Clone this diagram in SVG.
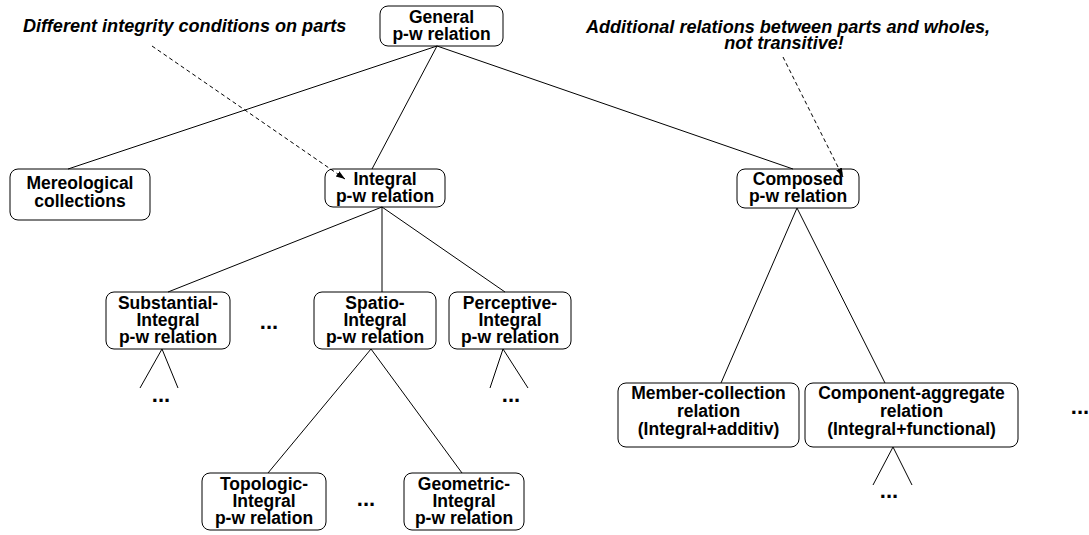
<svg xmlns="http://www.w3.org/2000/svg" width="1089" height="535" viewBox="0 0 1089 535">
<defs>
<style>
.box{fill:#fff;stroke:#000;stroke-width:1}
.t{font-family:"Liberation Sans",Arial,sans-serif;font-weight:bold;font-size:17.5px;text-anchor:middle;fill:#000}
.dots{font-family:"Liberation Sans",Arial,sans-serif;font-weight:bold;font-size:22px;text-anchor:middle;fill:#000}
.note{font-family:"Liberation Sans",Arial,sans-serif;font-weight:bold;font-style:italic;font-size:18.1px;fill:#000}
.ln{stroke:#000;stroke-width:1;fill:none}
.dash{stroke:#000;stroke-width:1;fill:none;stroke-dasharray:4 3}
</style>
<marker id="ah" viewBox="0 0 10 10" refX="10" refY="5" markerWidth="9" markerHeight="9" markerUnits="userSpaceOnUse" orient="auto">
<path d="M0,1.5 L10,5 L0,8.5 z" fill="#000"/>
</marker>
</defs>
<rect width="1089" height="535" fill="#fff"/>
<g id="note-integrity"><text class="note" x="23" y="32">Different integrity conditions on parts</text></g>
<g id="note-additional"><text class="note" x="788" y="33" text-anchor="middle">Additional relations between parts and wholes,</text><text class="note" x="784" y="49" text-anchor="middle">not transitive!</text></g>
<g id="general"><rect class="box" x="380" y="6" width="123" height="40" rx="8"/><text class="t" x="441.5" y="23">General</text><text class="t" x="441.5" y="40">p-w relation</text></g>
<g id="mereological"><rect class="box" x="10" y="169" width="140" height="51" rx="8"/><text class="t" x="80" y="189">Mereological</text><text class="t" x="80" y="207">collections</text></g>
<g id="integral"><rect class="box" x="325" y="169" width="120" height="38" rx="8"/><text class="t" x="385" y="185">Integral</text><text class="t" x="385" y="202">p-w relation</text></g>
<g id="composed"><rect class="box" x="737" y="169" width="122" height="39" rx="8"/><text class="t" x="798" y="185">Composed</text><text class="t" x="798" y="202">p-w relation</text></g>
<g id="substantial"><rect class="box" x="106" y="292" width="124" height="57" rx="8"/><text class="t" x="168" y="309">Substantial-</text><text class="t" x="168" y="326">Integral</text><text class="t" x="168" y="343">p-w relation</text></g>
<g id="spatio"><rect class="box" x="314" y="292" width="122" height="57" rx="8"/><text class="t" x="375" y="309">Spatio-</text><text class="t" x="375" y="326">Integral</text><text class="t" x="375" y="343">p-w relation</text></g>
<g id="perceptive"><rect class="box" x="449" y="292" width="122" height="57" rx="8"/><text class="t" x="510" y="309">Perceptive-</text><text class="t" x="510" y="326">Integral</text><text class="t" x="510" y="343">p-w relation</text></g>
<g id="topologic"><rect class="box" x="202" y="473" width="124" height="57" rx="8"/><text class="t" x="264" y="490">Topologic-</text><text class="t" x="264" y="507">Integral</text><text class="t" x="264" y="524">p-w relation</text></g>
<g id="geometric"><rect class="box" x="404" y="473" width="120" height="57" rx="8"/><text class="t" x="464" y="490">Geometric-</text><text class="t" x="464" y="507">Integral</text><text class="t" x="464" y="524">p-w relation</text></g>
<g id="member"><rect class="box" x="618" y="383" width="181" height="64" rx="8"/><text class="t" x="708.5" y="399">Member-collection</text><text class="t" x="708.5" y="417">relation</text><text class="t" x="708.5" y="435">(Integral+additiv)</text></g>
<g id="component"><rect class="box" x="805" y="383" width="213" height="64" rx="8"/><text class="t" x="911.5" y="399">Component-aggregate</text><text class="t" x="911.5" y="417">relation</text><text class="t" x="911.5" y="435">(Integral+functional)</text></g>
<g id="ellipses">
<text class="dots" x="269" y="329">...</text>
<text class="dots" x="161" y="402">...</text>
<text class="dots" x="511" y="402">...</text>
<text class="dots" x="366" y="506">...</text>
<text class="dots" x="889" y="498">...</text>
<text class="dots" x="1080" y="414">...</text>
</g>
<g id="connectors">
<line class="ln" x1="437" y1="46" x2="68" y2="169"/>
<line class="ln" x1="437" y1="46" x2="372" y2="169"/>
<line class="ln" x1="437" y1="46" x2="793" y2="169"/>
<line class="ln" x1="382" y1="207" x2="168" y2="292"/>
<line class="ln" x1="382" y1="207" x2="382" y2="292"/>
<line class="ln" x1="382" y1="207" x2="505" y2="292"/>
<line class="ln" x1="162" y1="349" x2="140" y2="388"/>
<line class="ln" x1="162" y1="349" x2="178" y2="388"/>
<line class="ln" x1="503" y1="349" x2="490" y2="388"/>
<line class="ln" x1="503" y1="349" x2="528" y2="388"/>
<line class="ln" x1="371" y1="349" x2="268" y2="473"/>
<line class="ln" x1="371" y1="349" x2="462" y2="473"/>
<line class="ln" x1="797" y1="208" x2="721" y2="383"/>
<line class="ln" x1="797" y1="208" x2="885" y2="383"/>
<line class="ln" x1="893" y1="447" x2="873" y2="485"/>
<line class="ln" x1="893" y1="447" x2="912" y2="485"/>
<line class="dash" x1="152" y1="46" x2="345" y2="179" marker-end="url(#ah)"/>
<line class="dash" x1="783" y1="57" x2="843" y2="177" marker-end="url(#ah)"/>
</g>
</svg>
